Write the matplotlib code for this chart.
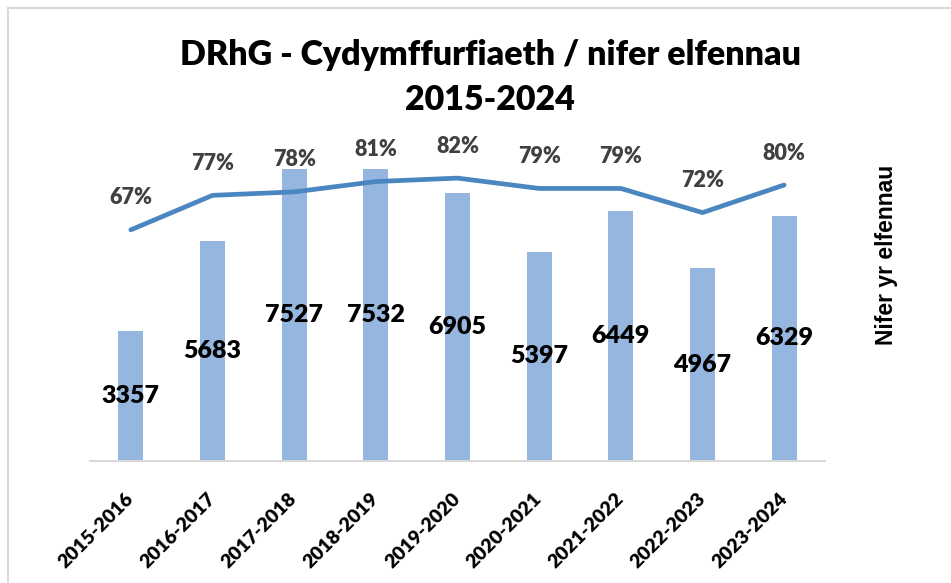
import matplotlib
matplotlib.use('Agg')
import matplotlib.pyplot as plt
from matplotlib.lines import Line2D
import numpy as np

years = ['2015-2016', '2016-2017', '2017-2018', '2018-2019', '2019-2020',
         '2020-2021', '2021-2022', '2022-2023', '2023-2024']
counts = [3357, 5683, 7527, 7532, 6905, 5397, 6449, 4967, 6329]
compliance = [67, 77, 78, 81, 82, 79, 79, 72, 80]

W, H = 951, 583
BOLD = 'heavy'
fig = plt.figure(figsize=(W / 100, H / 100), dpi=100)

# plot area in pixels: x 90..825, baseline 461, top 116
ax = fig.add_axes([90 / W, 1 - 461 / H, 735 / W, 345 / H])
ax2 = ax.twinx()

x = np.arange(len(years))
ax.bar(x, counts, width=0.31, color='#95B7DF', zorder=2)
ax.set_xlim(-0.5, 8.5)
ax.set_ylim(0, 8900)

for xi, v in zip(x, counts):
    ax.text(xi, v / 2, str(v), ha='center', va='center', fontsize=18,
            fontweight=BOLD, family='Lato', color='black', zorder=5)

pct = [p / 100 for p in compliance]
ax2.plot(x, pct, color='#4A86C0', lw=3.4, solid_capstyle='round', zorder=3)
ax2.set_ylim(0, 1)
for xi, p in zip(x, compliance):
    ax2.annotate(f'{p}%', (xi, p / 100), xytext=(0, 23), textcoords='offset points',
                 ha='center', va='center', fontsize=15.5, fontweight=BOLD,
                 family='Lato', color='#404040')

for a in (ax, ax2):
    for s in a.spines.values():
        s.set_visible(False)
    a.tick_params(left=False, right=False, labelleft=False, labelright=False)
ax.spines['bottom'].set_visible(True)
ax.spines['bottom'].set_color('#D9D9D9')
ax.spines['bottom'].set_linewidth(1.5)

ax.set_xticks(x)
ax.set_xticklabels(years, rotation=45, ha='right', va='center', rotation_mode='anchor',
                   fontsize=14, fontweight=BOLD, family='Lato')
ax.tick_params(axis='x', length=0, pad=25)

fig.text(490 / W, 1 - 55 / H, 'DRhG - Cydymffurfiaeth / nifer elfennau', ha='center',
         va='center', fontsize=24.5, fontweight=BOLD, family='Lato')
fig.text(490 / W, 1 - 100 / H, '2015-2024', ha='center', va='center', fontsize=24.5,
         fontweight=BOLD, family='Lato')
fig.text(887 / W, 1 - 255 / H, 'Nifer yr elfennau', rotation=90, ha='center', va='center',
         fontsize=16.5, fontweight='bold', family='Liberation Sans')

# chart border (left and top only visible)
fig.add_artist(Line2D([8 / W, 8 / W], [0, 1 - 8 / H], transform=fig.transFigure,
                      color='#D9D9D9', lw=1.5))
fig.add_artist(Line2D([8 / W, 1], [1 - 8 / H, 1 - 8 / H], transform=fig.transFigure,
                      color='#D9D9D9', lw=1.5))

fig.savefig('out.png', dpi=100)
